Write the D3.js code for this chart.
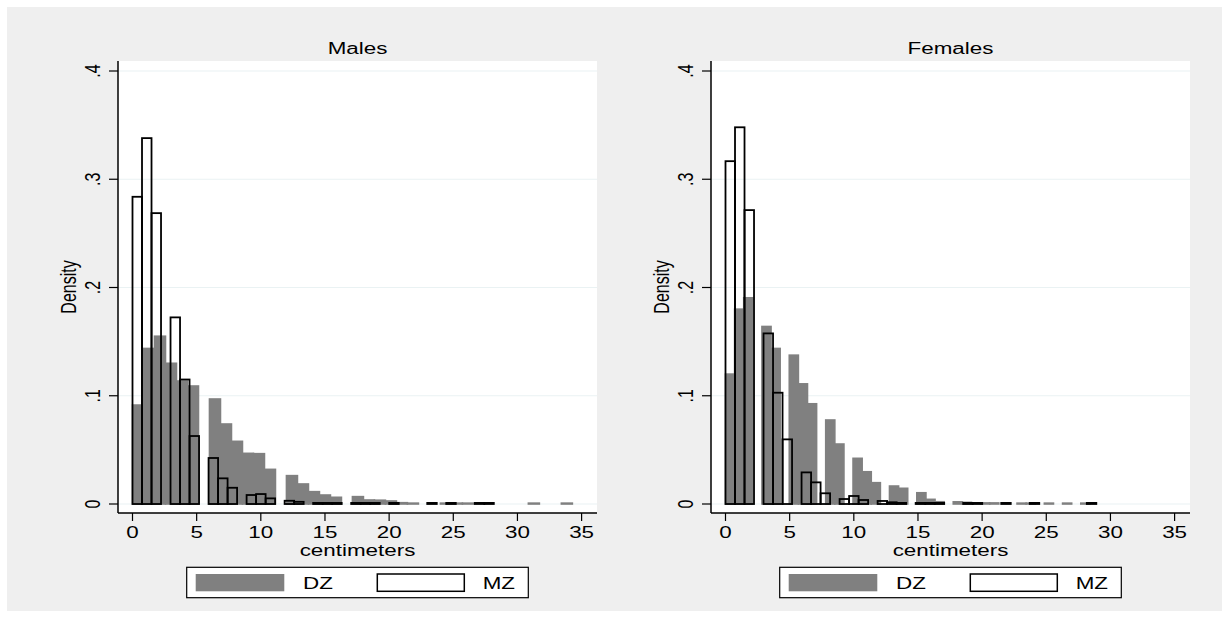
<!DOCTYPE html>
<html>
<head>
<meta charset="utf-8">
<script src="https://cdn.jsdelivr.net/npm/d3@7"></script>
<style>
  html, body { margin: 0; padding: 0; background: #ffffff; }
  svg { display: block; }
</style>
</head>
<body>
<div id="chart"></div>
<script>
// histogram densities, one value per bin, bins start at 0 cm
const maleDZWidth = 0.857;
const maleDZ = [0.0914, 0.1437, 0.155, 0.130, 0.1136, 0.109, 0, 0.097, 0.0739, 0.0579,
  0.0468, 0.0465, 0.032, 0, 0.0262, 0.0185, 0.0114, 0.0083, 0.0062, 0,
  0.0068, 0.0037, 0.0035, 0.0028, 0.0012, 0.0008, 0, 0, 0.0008, 0.0008,
  0.0008, 0, 0, 0, 0, 0, 0.0008, 0, 0, 0.0008];

const maleMZWidth = 0.741;
const maleMZ = [0.2838, 0.338, 0.2687, 0, 0.1724, 0.115, 0.0628, 0, 0.0425, 0.0237,
  0.015, 0, 0.0083, 0.0092, 0.0052, 0, 0.003, 0.002, 0, 0.001,
  0.001, 0.001, 0, 0.001, 0.001, 0.001, 0, 0.001, 0, 0,
  0, 0.001, 0, 0.001, 0, 0, 0.001, 0.001];

const femaleDZWidth = 0.71;
const femaleDZ = [0.12, 0.18, 0.1905, 0, 0.164, 0.1437, 0, 0.1375, 0.111, 0.0926,
  0, 0.0776, 0.0554, 0, 0.0422, 0.0298, 0.0197, 0, 0.0166, 0.0145,
  0, 0.0104, 0.0043, 0.0021, 0, 0.002, 0.0015, 0, 0.001, 0.001,
  0, 0, 0.0008, 0.0008, 0, 0.0008, 0, 0.0008, 0, 0.0008];

const femaleMZWidth = 0.741;
const femaleMZ = [0.3167, 0.348, 0.2715, 0, 0.1576, 0.1028, 0.0597, 0, 0.0292, 0.020,
  0.0099, 0, 0.0046, 0.0074, 0.0037, 0, 0.0028, 0.0016, 0.001, 0,
  0.001, 0.001, 0.001, 0, 0, 0.001, 0.001, 0, 0, 0.001,
  0, 0, 0.001, 0, 0, 0, 0, 0, 0.001];

const panelTitles = ['Males', 'Females'];
const xTicks = [0, 5, 10, 15, 20, 25, 30, 35];
const yTicks = [0, 0.1, 0.2, 0.3, 0.4];
const yTickLabels = ['0', '.1', '.2', '.3', '.4'];
const legendLabels = ['DZ', 'MZ'];

const W = 1231, H = 628;
const FONT = '"Liberation Sans", Arial, Helvetica, sans-serif';
const STRETCH = 1.4; // the picture is wider than tall, text is stretched too

const svg = d3.select('#chart').append('svg')
  .attr('width', W)
  .attr('height', H);

svg.append('rect')
  .attr('x', 7).attr('y', 7)
  .attr('width', 1215).attr('height', 604)
  .attr('fill', '#efefef');

// text helper: stretch horizontally like the original
function addText(parent, x, y, str, opts = {}) {
  const g = parent.append('g')
    .attr('transform', `translate(${x},${y}) scale(${STRETCH},1)` + (opts.rotate ? ` rotate(${opts.rotate})` : ''));
  g.append('text')
    .attr('font-family', FONT)
    .attr('font-size', opts.size || 16)
    .attr('text-anchor', opts.anchor || 'middle')
    .attr('dominant-baseline', opts.baseline || 'auto')
    .attr('fill', '#000')
    .text(str);
  return g;
}

const panels = [
  { title: panelTitles[0], left: 118, dz: maleDZ, dzW: maleDZWidth, mz: maleMZ, mzW: maleMZWidth },
  { title: panelTitles[1], left: 711, dz: femaleDZ, dzW: femaleDZWidth, mz: femaleMZ, mzW: femaleMZWidth }
];

const plotTop = 61, plotBottom = 513, plotW = 479;

panels.forEach(p => {
  const g = svg.append('g').attr('transform', `translate(${p.left},0)`);

  const x = d3.scaleLinear().domain([0, 35]).range([14.5, 463.6]);
  const y = d3.scaleLinear().domain([0, 0.4]).range([504, 71]);

  // plot region
  g.append('rect')
    .attr('x', 0).attr('y', plotTop)
    .attr('width', plotW).attr('height', plotBottom - plotTop)
    .attr('fill', '#ffffff');

  // grid
  g.selectAll('.grid')
    .data(yTicks)
    .enter()
    .append('line')
    .attr('class', 'grid')
    .attr('x1', 0).attr('x2', plotW)
    .attr('y1', d => y(d)).attr('y2', d => y(d))
    .attr('stroke', '#eaf2f3')
    .attr('stroke-width', 1.2);

  // DZ bars (gray, filled)
  const dzBins = p.dz.map((v, i) => ({ x0: i * p.dzW, x1: (i + 1) * p.dzW, v })).filter(d => d.v > 0);
  g.selectAll('.dz')
    .data(dzBins)
    .enter()
    .append('rect')
    .attr('class', 'dz')
    .attr('x', d => x(d.x0))
    .attr('width', d => x(d.x1) - x(d.x0))
    .attr('y', d => y(d.v))
    .attr('height', d => y(0) - y(d.v))
    .attr('fill', '#808080')
    .attr('stroke', '#808080')
    .attr('stroke-width', 1.6);

  // MZ bars (outline only)
  const mzBins = p.mz.map((v, i) => ({ x0: i * p.mzW, x1: (i + 1) * p.mzW, v })).filter(d => d.v > 0);
  g.selectAll('.mz')
    .data(mzBins)
    .enter()
    .append('rect')
    .attr('class', 'mz')
    .attr('x', d => x(d.x0))
    .attr('width', d => x(d.x1) - x(d.x0))
    .attr('y', d => y(d.v))
    .attr('height', d => y(0) - y(d.v))
    .attr('fill', 'none')
    .attr('stroke', '#000')
    .attr('stroke-width', 1.8);

  // axes
  g.append('line')
    .attr('x1', 0).attr('x2', 0)
    .attr('y1', plotTop).attr('y2', plotBottom)
    .attr('stroke', '#000').attr('stroke-width', 1.5);
  g.append('line')
    .attr('x1', 0).attr('x2', plotW)
    .attr('y1', plotBottom).attr('y2', plotBottom)
    .attr('stroke', '#000').attr('stroke-width', 1.5);

  yTicks.forEach((t, i) => {
    g.append('line')
      .attr('x1', -9).attr('x2', 0)
      .attr('y1', y(t)).attr('y2', y(t))
      .attr('stroke', '#000').attr('stroke-width', 1.2);
    addText(g, -26, y(t), yTickLabels[i], { rotate: -90, baseline: 'central' });
  });

  xTicks.forEach(t => {
    g.append('line')
      .attr('x1', x(t)).attr('x2', x(t))
      .attr('y1', plotBottom).attr('y2', plotBottom + 8)
      .attr('stroke', '#000').attr('stroke-width', 1.2);
    addText(g, x(t), 537.5, String(t));
  });

  addText(g, plotW / 2, 555.5, 'centimeters');
  addText(g, -50, (plotTop + plotBottom) / 2, 'Density', { rotate: -90, baseline: 'central' });
  addText(g, plotW / 2, 54, p.title);

  // legend
  const lg = g.append('g');
  lg.append('rect')
    .attr('x', 68.7).attr('y', 567.3)
    .attr('width', 341.6).attr('height', 30.4)
    .attr('fill', '#ffffff')
    .attr('stroke', '#000').attr('stroke-width', 1.2);
  lg.append('rect')
    .attr('x', 77.7).attr('y', 574)
    .attr('width', 88.6).attr('height', 17.3)
    .attr('fill', '#808080');
  addText(lg, 185, 589.3, legendLabels[0], { anchor: 'start' });
  lg.append('rect')
    .attr('x', 259.3).attr('y', 574)
    .attr('width', 87).attr('height', 17.3)
    .attr('fill', '#ffffff')
    .attr('stroke', '#000').attr('stroke-width', 1.5);
  addText(lg, 364.7, 589.3, legendLabels[1], { anchor: 'start' });
});
</script>
</body>
</html>
